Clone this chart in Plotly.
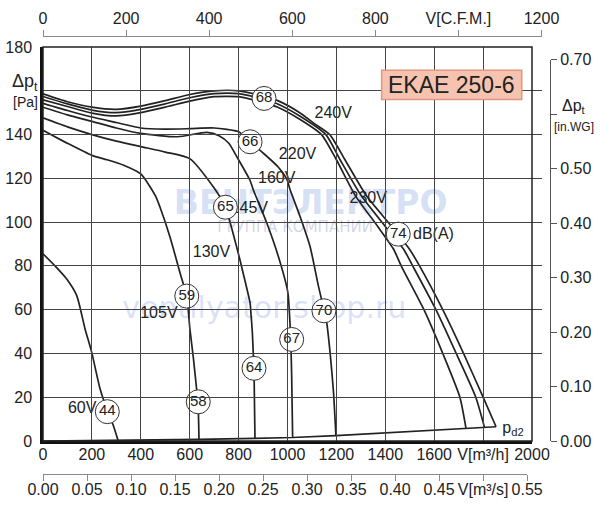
import plotly.graph_objects as go

# ---------------- data ----------------
# fan curves: airflow V [m3/h] vs total pressure dp_t [Pa]
v_60 = [0, 49, 97, 138, 172, 199, 233, 263, 287, 307]
p_60 = [85.5, 80, 74, 66.4, 51.2, 40.6, 24, 14, 7.3, 0.2]

v_105 = [0, 100, 200, 262, 330, 400, 460, 478, 520, 560, 588, 601, 615, 628, 634, 638]
p_105 = [142, 136, 130.5, 128.5, 126, 122, 112, 107, 93, 77, 66, 51, 38, 24, 18, 0.7]

v_130 = [0, 100, 200, 300, 400, 500, 600, 697, 746, 777, 805, 818, 847, 850, 856, 860, 863, 867]
p_130 = [147.6, 143.5, 140, 137, 134.5, 132, 129, 116, 107, 95, 83, 77, 63, 59, 50, 40, 33, 1.2]

v_145 = [0, 100, 200, 300, 400, 550, 670, 720, 760, 792, 847, 860, 915, 962, 999, 1003, 1007, 1013, 1017, 1021]
p_145 = [152.5, 149, 146, 143, 140.5, 139, 141, 139.5, 136, 130, 119, 114.8, 99.7, 84.5, 69.4, 66.4, 60.3, 47, 30, 1.6]

v_160 = [0, 100, 200, 300, 400, 500, 600, 700, 800, 847, 896, 961, 998, 1010, 1051, 1092, 1126, 1149, 1160, 1174, 1188, 1198]
p_160 = [154.3, 151, 148, 145.5, 143, 142.5, 142.7, 143, 141.3, 136.7, 132, 125.3, 119.4, 115, 102.7, 89, 71, 60, 54.3, 40.6, 22.5, 2.5]

v_220 = [0, 100, 200, 300, 400, 500, 600, 700, 800, 904, 960, 1050, 1139, 1200, 1278, 1369, 1434, 1465, 1558, 1635, 1705, 1730]
p_220 = [155.9, 152.8, 149.8, 148.5, 150, 152.5, 155.3, 157.3, 157.3, 154.5, 152.5, 147, 140, 128.5, 112, 98, 87.6, 80, 60, 40, 20, 5.8]

v_230 = [0, 100, 200, 300, 400, 500, 600, 700, 800, 904, 960, 1050, 1157, 1215, 1302, 1400, 1475, 1512, 1607, 1690, 1770, 1806]
p_230 = [157.4, 154, 151.2, 150, 151.5, 154, 156.8, 158.7, 158.7, 156, 154, 148.5, 140, 128.5, 112, 98, 87.6, 80, 60, 40, 20, 6.1]

v_240 = [0, 100, 200, 300, 400, 500, 600, 700, 800, 904, 960, 1050, 1110, 1173, 1235, 1323, 1426, 1499, 1540, 1635, 1720, 1800, 1853]
p_240 = [158.6, 155, 152.5, 151.5, 153, 155.5, 158.3, 160, 160, 157.5, 155.5, 150, 145, 140, 128.5, 112, 98, 87.6, 80, 60, 40, 20, 6.5]

# dynamic pressure line p_d2
v_pd2 = [0, 307, 638, 867, 1021, 1198, 1730, 1806, 1853]
p_pd2 = [0, 0.2, 0.7, 1.2, 1.6, 2.5, 5.8, 6.1, 6.5]

curves = [(v_60, p_60), (v_105, p_105), (v_130, p_130), (v_145, p_145),
          (v_160, p_160), (v_220, p_220), (v_230, p_230), (v_240, p_240)]

# voltage / misc labels
label_text = ["240V", "230V", "220V", "160V", "145V", "130V", "105V", "60V", "dB(A)", "p<sub>d2</sub>"]
label_v = [1187, 1330, 1041, 956, 844, 689, 474, 160, 1597, 1922]
label_p = [149.6, 110.5, 130.6, 119.5, 106, 86, 58.2, 14.8, 94, 5.6]

# sound level markers dB(A)
snd_text = ["68", "66", "65", "59", "58", "44", "64", "67", "70", "74"]
snd_v = [904, 847, 746, 588, 635, 263, 863, 1017, 1149, 1453]
snd_p = [156.5, 136.7, 106.8, 66.2, 17.9, 13.4, 33.2, 46.4, 59.5, 94.5]

# axis ticks
x_ticks = list(range(0, 2001, 200))
x_ticktext = [str(t) for t in x_ticks]
x_ticktext[9] = "V[m³/h]"
y_ticks = list(range(0, 181, 20))
y_ticktext = [str(t) for t in y_ticks]
y_ticktext[8] = " "
cfm_ticks = [0, 200, 400, 600, 800, 1000, 1200]
cfm_ticktext = ["0", "200", "400", "600", "800", "V[C.F.M.]", "1200"]
ms_ticks = [0, 0.05, 0.10, 0.15, 0.20, 0.25, 0.30, 0.35, 0.40, 0.45, 0.50, 0.55]
ms_ticktext = ["0.00", "0.05", "0.10", "0.15", "0.20", "0.25", "0.30", "0.35", "0.40", "0.45", "V[m³/s]", "0.55"]
wg_ticks = [0, 0.1, 0.2, 0.3, 0.4, 0.5, 0.6, 0.7]
wg_ticktext = ["0.00", "0.10", "0.20", "0.30", "0.40", "0.50", " ", "0.70"]

title_text = "EKAE 250-6"

# ---------------- figure ----------------
FONT = "Liberation Sans, Arial, Helvetica, sans-serif"
INK = "#222222"

fig = go.Figure()

# dummy traces so the secondary axes get drawn
fig.add_trace(go.Scatter(x=[0], y=[0], xaxis="x2", yaxis="y", mode="markers",
                         marker=dict(opacity=0), hoverinfo="skip", showlegend=False))
fig.add_trace(go.Scatter(x=[0], y=[0], xaxis="x3", yaxis="y", mode="markers",
                         marker=dict(opacity=0), hoverinfo="skip", showlegend=False))
fig.add_trace(go.Scatter(x=[0], y=[0], xaxis="x", yaxis="y2", mode="markers",
                         marker=dict(opacity=0), hoverinfo="skip", showlegend=False))

# faint watermark (behind the curves)
fig.add_trace(go.Scatter(
    x=[1095, 1031, 905], y=[107.5, 97.3, 59.5], mode="text",
    text=["<b>ВЕНТЭЛЕКТРО</b>", "ГРУППА КОМПАНИИ", "ventilyator-shop.ru"],
    textfont=dict(family="DejaVu Sans, sans-serif", size=[33, 15, 30],
                  color=["rgba(150,175,230,0.38)", "rgba(150,165,205,0.45)", "rgba(140,160,230,0.33)"]),
    hoverinfo="skip", showlegend=False, cliponaxis=False))

for v, p in curves:
    fig.add_trace(go.Scatter(x=v, y=p, mode="lines",
                             line=dict(color=INK, width=1.7, shape="spline", smoothing=0.6),
                             hoverinfo="skip", showlegend=False))
fig.add_trace(go.Scatter(x=v_pd2, y=p_pd2, mode="lines",
                         line=dict(color=INK, width=1.7),
                         hoverinfo="skip", showlegend=False, cliponaxis=False))

fig.add_trace(go.Scatter(x=label_v, y=label_p, mode="text", text=label_text,
                         textfont=dict(family=FONT, size=16, color=INK),
                         hoverinfo="skip", showlegend=False, cliponaxis=False))

fig.add_trace(go.Scatter(x=snd_v, y=snd_p, mode="markers+text", text=snd_text,
                         textposition="middle center",
                         marker=dict(size=24, color="white", line=dict(color="#333333", width=1)),
                         textfont=dict(family=FONT, size=15, color=INK),
                         hoverinfo="skip", showlegend=False, cliponaxis=False))

# geometry (paper = 43..560 px wide, 36..474 px tall)
PW, PH = 517.0, 438.0
x_dom = [0, 489 / PW]
y_dom = [(474 - 441) / PH, (474 - 47) / PH]

tickfont = dict(family=FONT, size=16, color=INK)

fig.update_layout(
    width=600, height=510,
    margin=dict(l=43, r=40, t=36, b=36, pad=0, autoexpand=False),
    paper_bgcolor="white", plot_bgcolor="rgba(0,0,0,0)",
    font=dict(family=FONT, color=INK),
    xaxis=dict(domain=x_dom, range=[0, 2000], tickmode="array", tickvals=x_ticks, ticktext=x_ticktext,
               showgrid=True, gridcolor="#444444", gridwidth=1, zeroline=False, automargin=False,
               showline=True, linecolor="#111", linewidth=2.5, ticks="", ticklabelstandoff=-3,
               tickfont=tickfont, anchor="y"),
    yaxis=dict(domain=y_dom, range=[0, 180], tickmode="array", tickvals=y_ticks, ticktext=y_ticktext,
               showgrid=True, gridcolor="#444444", gridwidth=1, zeroline=False, automargin=False,
               showline=True, linecolor="#111", linewidth=2.5, ticks="", ticklabelstandoff=5,
               tickfont=tickfont, anchor="x"),
    xaxis2=dict(domain=[0, (541.5 - 43) / PW], range=[0, 1200], anchor="free", position=1, side="top",
                tickmode="array", tickvals=cfm_ticks, ticktext=cfm_ticktext, automargin=False,
                showgrid=False, zeroline=False, showline=True, linecolor="#8a8a8a", linewidth=1,
                ticks="outside", ticklen=6, tickcolor="#8a8a8a", tickfont=tickfont),
    xaxis3=dict(domain=[0, (527.1 - 43) / PW], range=[0, 0.55], anchor="free", position=0, side="bottom",
                tickmode="array", tickvals=ms_ticks, ticktext=ms_ticktext, automargin=False,
                showgrid=False, zeroline=False, showline=True, linecolor="#8a8a8a", linewidth=1,
                ticks="outside", ticklen=6, tickcolor="#8a8a8a", tickfont=tickfont, ticklabelstandoff=-5),
    yaxis2=dict(domain=[y_dom[0], (474 - 59.5) / PH], range=[0, 0.70], anchor="free",
                position=(550 - 43) / PW, side="right", automargin=False,
                tickmode="array", tickvals=wg_ticks, ticktext=wg_ticktext,
                showgrid=False, zeroline=False, showline=True, linecolor="#555", linewidth=1,
                ticks="outside", ticklen=6, tickcolor="#555", tickfont=tickfont),
)

# plot frame (top / right edges)
fig.add_shape(type="rect", xref="x domain", yref="y domain", x0=0, x1=1, y0=0, y1=1,
              line=dict(color="#222", width=1.5), layer="above")

# model box
fig.add_shape(type="rect", xref="x", yref="y", x0=1385, x1=1958, y0=156.0, y1=169.4,
              fillcolor="#F6C3B0", line=dict(color="#E0957E", width=1.5), layer="above")
fig.add_annotation(x=1671, y=162.7, xref="x", yref="y", text=title_text, showarrow=False,
                   font=dict(family=FONT, size=23, color=INK))

# axis titles
def side_label(px, py, text, size):
    fig.add_annotation(xref="paper", yref="paper", x=(px - 43) / PW, y=(474 - py) / PH,
                       xanchor="center", yanchor="middle",
                       text=text, showarrow=False, font=dict(family=FONT, size=size, color=INK))

side_label(25, 82, "Δp<sub>t</sub>", 18)
side_label(25, 102, "[Pa]", 14)
side_label(574, 106, "Δp<sub>t</sub>", 16)
side_label(574, 127, "[in.WG]", 12)

fig.write_html("out.html")
